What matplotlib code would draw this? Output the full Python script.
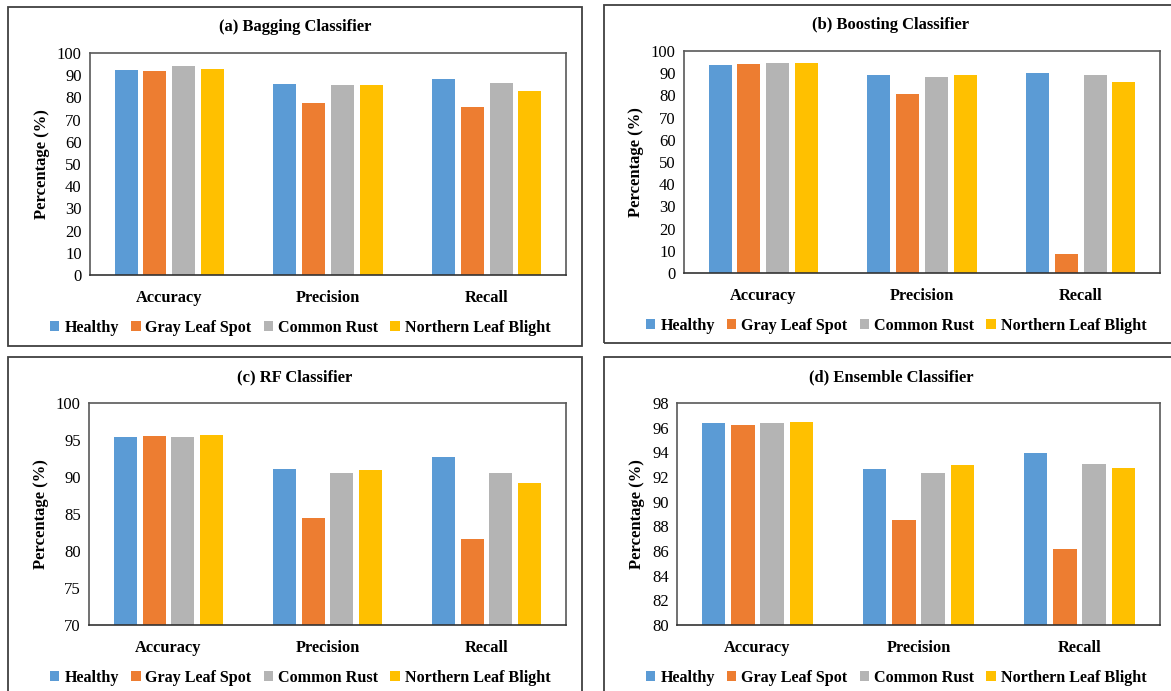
import matplotlib
matplotlib.use("Agg")
import matplotlib.pyplot as plt
from matplotlib.patches import Rectangle, Patch
import numpy as np

plt.rcParams['font.family'] = ['Liberation Serif', 'DejaVu Serif']

categories = ["Accuracy", "Precision", "Recall"]
series = ["Healthy", "Gray Leaf Spot", "Common Rust", "Northern Leaf Blight"]
colors = ["#5B9BD5", "#ED7D31", "#B4B4B4", "#FFC000"]

bagging_healthy = [92.2, 85.9, 88.3]
bagging_gls = [91.9, 77.5, 75.8]
bagging_cr = [94.0, 85.7, 86.6]
bagging_nlb = [92.8, 85.7, 83.0]

boosting_healthy = [93.5, 89.0, 89.9]
boosting_gls = [94.3, 80.5, 8.7]
boosting_cr = [94.4, 88.3, 89.3]
boosting_nlb = [94.4, 89.0, 86.0]

rf_healthy = [95.35, 91.07, 92.64]
rf_gls = [95.53, 84.43, 81.59]
rf_cr = [95.35, 90.52, 90.52]
rf_nlb = [95.62, 90.97, 89.22]

ens_healthy = [96.35, 92.67, 93.94]
ens_gls = [96.24, 88.50, 86.17]
ens_cr = [96.35, 92.34, 93.05]
ens_nlb = [96.46, 92.94, 92.75]

W, H = 1171, 691
fig = plt.figure(figsize=(W / 100, H / 100), dpi=100)


def rect(l, t, r, b):
    return [l / W, 1 - b / H, (r - l) / W, (b - t) / H]


panels = [
    dict(title="(a) Bagging Classifier", data=[bagging_healthy, bagging_gls, bagging_cr, bagging_nlb],
         box=(8, 7, 582, 346), ax=(90, 53, 566, 275), ylim=(0, 100), yticks=np.arange(0, 101, 10)),
    dict(title="(b) Boosting Classifier", data=[boosting_healthy, boosting_gls, boosting_cr, boosting_nlb],
         box=(604, 5, 1178, 343), ax=(684, 51, 1160, 273), ylim=(0, 100), yticks=np.arange(0, 101, 10)),
    dict(title="(c) RF Classifier", data=[rf_healthy, rf_gls, rf_cr, rf_nlb],
         box=(8, 357, 582, 698), ax=(89, 403, 566, 625), ylim=(70, 100), yticks=np.arange(70, 101, 5)),
    dict(title="(d) Ensemble Classifier", data=[ens_healthy, ens_gls, ens_cr, ens_nlb],
         box=(604, 357, 1178, 698), ax=(677, 403, 1160, 625), ylim=(80, 98), yticks=np.arange(80, 99, 2)),
]

x = np.arange(len(categories))
pitch = 0.181
width = 0.145

for p in panels:
    bl, bt, br, bb = p["box"]
    fig.patches.append(Rectangle((bl / W, 1 - bb / H), (br - bl) / W, (bb - bt) / H,
                                 transform=fig.transFigure, fill=False,
                                 edgecolor="#404040", linewidth=1.3))
    ax = fig.add_axes(rect(*p["ax"]))
    for i, (vals, c) in enumerate(zip(p["data"], colors)):
        ax.bar(x + (i - 1.5) * pitch, vals, width=width, color=c,
               bottom=0, label=series[i], zorder=2)
    ax.set_xlim(-0.5, 2.5)
    ax.set_ylim(*p["ylim"])
    ax.set_yticks(p["yticks"])
    ax.set_yticklabels([str(int(v)) for v in p["yticks"]], fontsize=12)
    ax.set_xticks(x)
    ax.set_xticklabels(categories, fontsize=11.8, fontweight="bold")
    ax.tick_params(length=0, pad=6)
    ax.tick_params(axis="x", pad=11)
    for s in ax.spines.values():
        s.set_color("#595959")
        s.set_linewidth(1.2)
    ax.spines["bottom"].set_color("#333333")
    ax.set_ylabel("Percentage (%)", fontsize=12, fontweight="bold", labelpad=5)
    cx = (bl + br) / 2 / W
    fig.text(cx, 1 - (bt + 20) / H, p["title"], ha="center", va="center",
             fontsize=12, fontweight="bold")
    handles = [Patch(facecolor=c, edgecolor="none") for c in colors]
    fig.legend(handles, series, loc="center", bbox_to_anchor=(cx + 5 / W, 1 - (p["ax"][3] + 53) / H),
               ncol=4, frameon=False, prop=dict(size=11.6, weight="bold"),
               handlelength=0.6, handleheight=0.6, handletextpad=0.3,
               columnspacing=0.75, borderpad=0)

fig.savefig("out.png", dpi=100)
